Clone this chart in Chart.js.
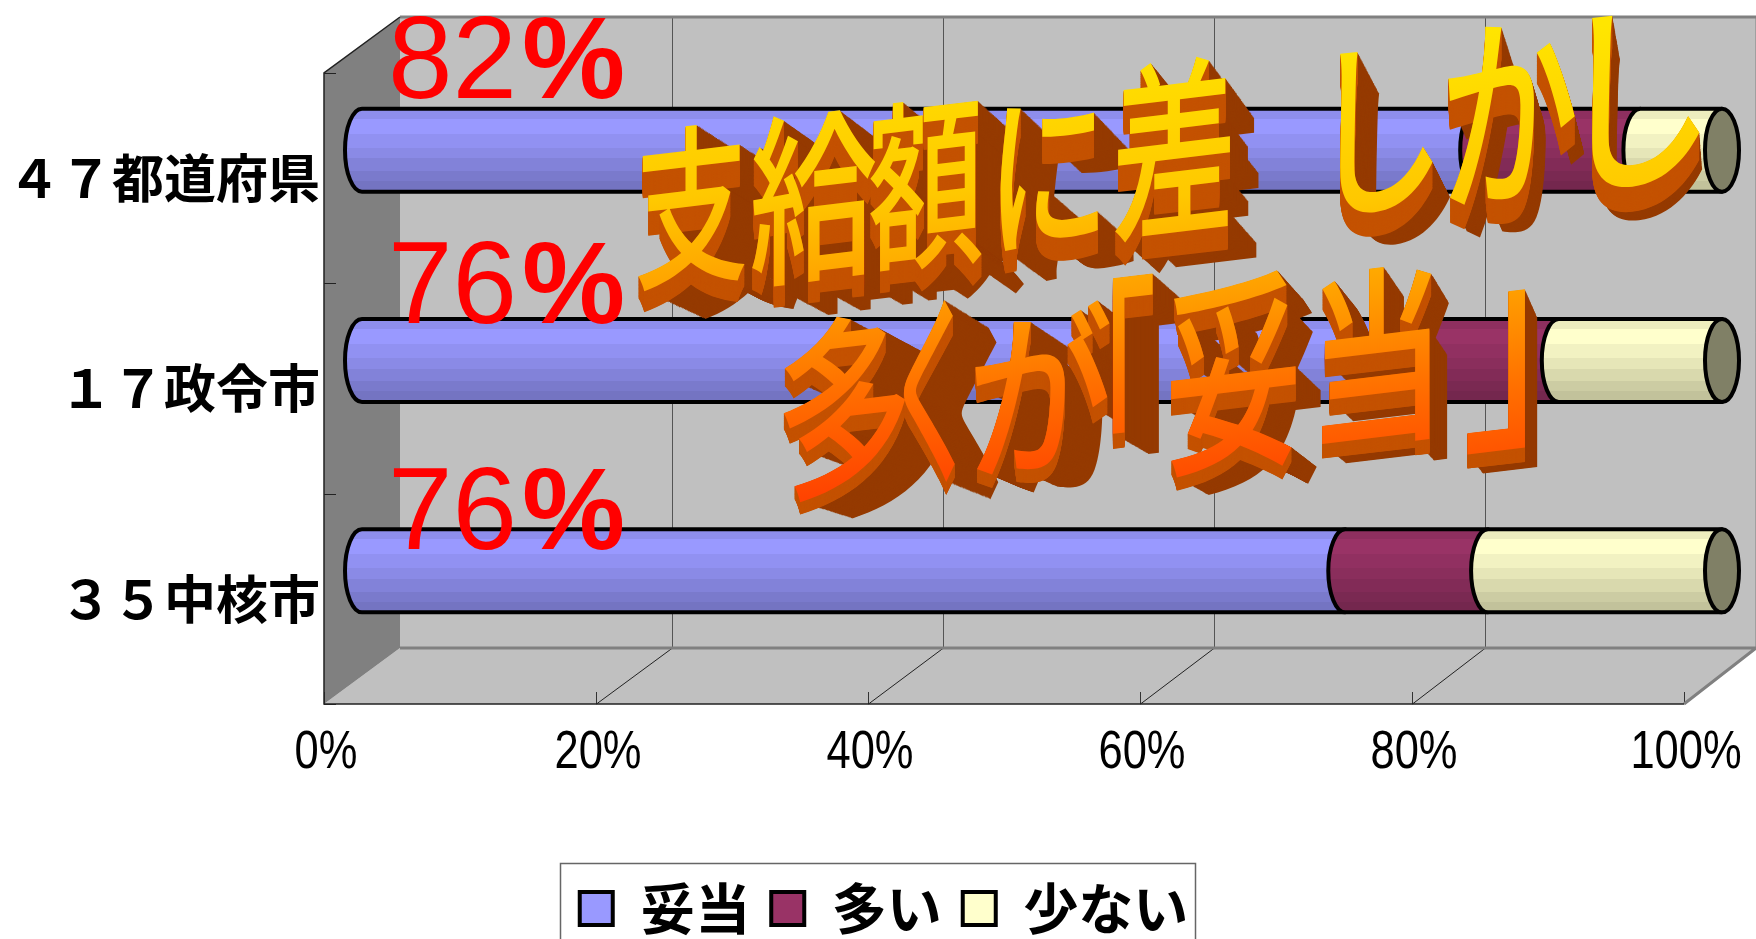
<!DOCTYPE html>
<html>
<head>
<meta charset="utf-8">
<title>支給額</title>
<style>
  html, body { margin: 0; padding: 0; background: #fff; overflow: hidden; }
  canvas { display: block; }
</style>
<script src="https://cdn.jsdelivr.net/npm/chart.js@4"></script>
</head>
<body>
<canvas id="chart" width="1756" height="939"></canvas>
<script>
const categories = ['４７都道府県', '１７政令市', '３５中核市'];
const seriesNames = ['妥当', '多い', '少ない'];
const fitting = [82, 76, 72.3];
const tooMuch = [12, 12, 10.5];
const tooLittle = [6, 12, 17.2];
const xTicks = [0, 20, 40, 60, 80, 100];
const redLabels = ['82', '76', '76'];

const FONT_JP = '"Noto Sans CJK JP", "Noto Sans", sans-serif';

// depth of the fake 3D box, in pixels
const DX = 76, DY = -56;
const CAP_RX = 17;

// stepped shading of the cylinders: [offset, brightness]
const BANDS = [[0, 0.93], [0.12, 1], [0.3, 0.95], [0.47, 0.9], [0.6, 0.85], [0.75, 0.8], [0.87, 0.76]];

function shade(hex, f) {
  const n = parseInt(hex.slice(1), 16);
  const r = Math.round(((n >> 16) & 255) * f);
  const g = Math.round(((n >> 8) & 255) * f);
  const b = Math.round((n & 255) * f);
  return `rgb(${r},${g},${b})`;
}

function bandGradient(ctx, top, bottom, hex) {
  const g = ctx.createLinearGradient(0, top, 0, bottom);
  BANDS.forEach((band, i) => {
    const next = i + 1 < BANDS.length ? BANDS[i + 1][0] : 1;
    g.addColorStop(band[0], shade(hex, band[1]));
    g.addColorStop(next, shade(hex, band[1]));
  });
  return g;
}

// walls, floor and grid are drawn behind everything
const boxPlugin = {
  id: 'box',
  beforeDraw(chart) {
    const { ctx, chartArea: a, scales } = chart;
    const backL = a.left + DX, backR = a.right + DX - 4, backT = a.top + DY, backB = a.bottom + DY;
    const backScale = (backR - backL) / (a.right - a.left);
    ctx.save();
    ctx.fillStyle = '#c0c0c0';
    ctx.fillRect(backL, backT, backR - backL, backB - backT);
    ctx.beginPath();
    ctx.moveTo(a.left, a.bottom);
    ctx.lineTo(backL, backB);
    ctx.lineTo(backR, backB);
    ctx.lineTo(a.right, a.bottom);
    ctx.closePath();
    ctx.fill();
    ctx.fillStyle = '#808080';
    ctx.beginPath();
    ctx.moveTo(a.left, a.top);
    ctx.lineTo(backL, backT);
    ctx.lineTo(backL, backB);
    ctx.lineTo(a.left, a.bottom);
    ctx.closePath();
    ctx.fill();

    // grid on back wall and floor
    ctx.lineWidth = 1;
    scales.x.ticks.forEach((t, i) => {
      const x = Math.round(scales.x.getPixelForTick(i)) + 0.5;
      const xBack = Math.round(backL + (x - a.left) * backScale) + 0.5;
      if (i > 0 && i < xTicks.length - 1) {
        ctx.strokeStyle = '#555';
        ctx.beginPath();
        ctx.moveTo(xBack, backT);
        ctx.lineTo(xBack, backB);
        ctx.stroke();
        ctx.strokeStyle = '#222';
        ctx.beginPath();
        ctx.moveTo(x, a.bottom);
        ctx.lineTo(xBack, backB);
        ctx.stroke();
      }
      ctx.strokeStyle = '#333';
      ctx.beginPath();
      ctx.moveTo(x, a.bottom);
      ctx.lineTo(x, a.bottom - 12);
      ctx.stroke();
    });

    // edges
    ctx.strokeStyle = '#808080';
    ctx.lineWidth = 3;
    ctx.beginPath();
    ctx.moveTo(backL, backT);
    ctx.lineTo(backR, backT);
    ctx.moveTo(backL, backB);
    ctx.lineTo(backR, backB);
    ctx.moveTo(a.right, a.bottom);
    ctx.lineTo(backR, backB);
    ctx.stroke();
    ctx.lineWidth = 1;
    ctx.beginPath();
    ctx.moveTo(backR, backT);
    ctx.lineTo(backR, backB);
    ctx.stroke();

    ctx.strokeStyle = '#222';
    ctx.lineWidth = 1.5;
    ctx.beginPath();
    ctx.moveTo(a.right, a.bottom);
    ctx.lineTo(a.left, a.bottom);
    ctx.lineTo(a.left, a.top);
    ctx.lineTo(backL, backT);
    ctx.stroke();

    // category tick marks on the left wall
    const band = (a.bottom - a.top) / categories.length;
    ctx.lineWidth = 1;
    for (let i = 0; i <= categories.length; i++) {
      const y = Math.round(a.top + i * band) + 0.5;
      ctx.beginPath();
      ctx.moveTo(a.left, y);
      ctx.lineTo(a.left + 12, y);
      ctx.stroke();
    }

    // value labels, squeezed like a narrow face
    ctx.fillStyle = '#000';
    ctx.font = '53px "Liberation Sans", sans-serif';
    ctx.textAlign = 'center';
    ctx.textBaseline = 'alphabetic';
    scales.x.ticks.forEach((t, i) => {
      ctx.save();
      ctx.translate(scales.x.getPixelForTick(i) + 2, 768);
      ctx.scale(0.82, 1);
      ctx.fillText(t.label, 0, 0);
      ctx.restore();
    });
    ctx.restore();
  }
};

// bars are laid out by the stacked scales, then shown as cylinders half way into the box
const cylinderPlugin = {
  id: 'cylinders',
  beforeDatasetsDraw(chart) {
    const ctx = chart.ctx;
    ctx.save();
    ctx.translate(DX / 2, DY / 2);
    chart.data.datasets.forEach((ds, di) => {
      const last = di === chart.data.datasets.length - 1;
      chart.getDatasetMeta(di).data.forEach(bar => {
        const top = bar.y - bar.height / 2;
        const bottom = bar.y + bar.height / 2;
        const ry = bar.height / 2;
        ctx.beginPath();
        ctx.moveTo(bar.x, top);
        ctx.lineTo(bar.base, top);
        ctx.ellipse(bar.base, bar.y, CAP_RX, ry, 0, -Math.PI / 2, Math.PI / 2, true);
        ctx.lineTo(bar.x, bottom);
        ctx.closePath();
        ctx.fillStyle = bandGradient(ctx, top, bottom, ds.backgroundColor);
        ctx.fill();
        ctx.strokeStyle = '#000';
        ctx.lineWidth = 4;
        ctx.lineJoin = 'round';
        ctx.stroke();
        if (last) {
          ctx.beginPath();
          ctx.ellipse(bar.x, bar.y, CAP_RX, ry, 0, 0, Math.PI * 2);
          ctx.fillStyle = '#808066';
          ctx.fill();
          ctx.stroke();
        }
      });
    });
    ctx.restore();
    return false;
  }
};

// red percentages, placed by hand like the text boxes they were
const redLabelBaselines = [98, 323, 549];
const redLabelPlugin = {
  id: 'redLabels',
  afterDraw(chart) {
    const ctx = chart.ctx;
    ctx.save();
    ctx.fillStyle = '#ff0000';
    ctx.textAlign = 'left';
    ctx.textBaseline = 'alphabetic';
    redLabels.forEach((text, i) => {
      ctx.font = '116px "Liberation Sans", sans-serif';
      ctx.fillText(text, 388, redLabelBaselines[i]);
      ctx.font = 'bold 116px "Liberation Sans", sans-serif';
      ctx.fillText('%', 522, redLabelBaselines[i]);
    });
    ctx.restore();
  }
};

// the extruded headline
const artText = '支給額に差しかし多くが「妥当」';
// left, right, top, bottom of each front face
const artBoxes = [
  [638, 745, 118, 293], [752, 875, 103, 290], [870, 982, 92, 277], [1000, 1098, 97, 253], [1115, 1230, 52, 245],
  [1340, 1433, 42, 217], [1448, 1575, 15, 207], [1592, 1700, 4, 192],
  [783, 905, 308, 505], [901, 955, 298, 487], [975, 1110, 298, 477], [1113, 1153, 273, 435],
  [1171, 1296, 267, 480], [1322, 1432, 260, 453], [1467, 1525, 288, 455]
];
const ART_SLOPE = 0.12;
const ART_VANISH = [1750, 800];
const ART_DEPTH = 0.055;
const ART_STEPS = 40;

function glyphMatrix(ctx, ch, box) {
  const m = ctx.measureText(ch);
  const left = -m.actualBoundingBoxLeft, right = m.actualBoundingBoxRight;
  const up = -m.actualBoundingBoxAscent, down = m.actualBoundingBoxDescent;
  const w = box[1] - box[0], h = box[3] - box[2];
  const sx = w / (right - left);
  const sy = (h - ART_SLOPE * w) / (down - up);
  const uc = (left + right) / 2, vc = (up + down) / 2;
  const e = box[0] - sx * left;
  const f = (box[2] + box[3]) / 2 + ART_SLOPE * sx * uc - sy * vc;
  return { a: sx, b: -ART_SLOPE * sx, d: sy, e, f, uc };
}

const artPlugin = {
  id: 'wordArt',
  afterDraw(chart) {
    const ctx = chart.ctx;
    const glyphs = Array.from(artText);
    const [vx, vy] = ART_VANISH;
    ctx.save();
    ctx.font = `500 200px ${FONT_JP}`;
    ctx.textBaseline = 'alphabetic';
    ctx.textAlign = 'left';
    const mats = glyphs.map((ch, i) => glyphMatrix(ctx, ch, artBoxes[i]));

    // side faces: right facing ones dark, downward ones lighter
    [[1, 1, '#953a00', 1], [0, 1, '#c45200', 0.75]].forEach(pass => {
      ctx.fillStyle = pass[2];
      glyphs.forEach((ch, i) => {
        const m = mats[i];
        for (let s = ART_STEPS; s > 0; s--) {
          const t = ART_DEPTH * pass[3] * s / ART_STEPS;
          const kx = pass[0] ? 1 - t : 1, ky = 1 - t;
          ctx.setTransform(1, 0, 0, 1, 0, 0);
          ctx.translate(vx, vy);
          ctx.scale(kx, ky);
          ctx.translate(-vx, -vy);
          ctx.transform(m.a, m.b, 0, m.d, m.e, m.f);
          ctx.fillText(ch, 0, 0);
        }
      });
    });

    // front faces with one gold to red gradient down the whole headline
    glyphs.forEach((ch, i) => {
      const m = mats[i];
      ctx.setTransform(m.a, m.b, 0, m.d, m.e, m.f);
      const toV = y => (y - m.f - m.b * m.uc) / m.d;
      const g = ctx.createLinearGradient(m.uc, toV(20), m.uc, toV(510));
      g.addColorStop(0, '#ffe600');
      g.addColorStop(0.36, '#ffc800');
      g.addColorStop(0.55, '#ffa000');
      g.addColorStop(0.75, '#ff7000');
      g.addColorStop(1, '#ff3c00');
      ctx.fillStyle = g;
      ctx.fillText(ch, 0, 0);
    });
    ctx.restore();

    // legend frame, its bottom edge runs off the picture
    ctx.save();
    ctx.strokeStyle = '#666';
    ctx.lineWidth = 1.5;
    ctx.strokeRect(560.5, 863.5, 635, 100);
    ctx.restore();
  }
};

const legendShift = {
  id: 'legendShift',
  afterLayout(chart) {
    chart.legend.top = 860;
    chart.legend.left += 42;
    chart.legend.right += 42;
  }
};

const colors = ['#9999FF', '#993366', '#FFFFCC'];
const values = [fitting, tooMuch, tooLittle];

new Chart(document.getElementById('chart'), {
  type: 'bar',
  data: {
    labels: categories,
    datasets: seriesNames.map((name, i) => ({
      label: name,
      data: values[i],
      backgroundColor: colors[i],
      borderColor: '#000',
      borderWidth: 4,
      barPercentage: 0.395,
      categoryPercentage: 1
    }))
  },
  options: {
    indexAxis: 'y',
    responsive: false,
    animation: false,
    layout: { padding: { top: 73, right: 72, left: 0, bottom: 0 } },
    plugins: {
      tooltip: { enabled: false },
      legend: {
        position: 'bottom',
        labels: {
          boxWidth: 33,
          boxHeight: 33,
          padding: 21,
          color: '#000',
          font: { family: FONT_JP, size: 55, weight: 'bold' }
        }
      }
    },
    scales: {
      x: {
        type: 'linear',
        stacked: true,
        min: 0,
        max: 100,
        afterBuildTicks(scale) {
          scale.ticks = xTicks.map(v => ({ value: v }));
        },
        afterFit(scale) {
          scale.height = scale.chart.height - 704 - scale.chart.legend.height;
        },
        grid: { display: false },
        border: { display: false },
        ticks: {
          display: false,
          callback: v => v + '%'
        }
      },
      y: {
        stacked: true,
        afterFit(scale) {
          scale.width = 324;
        },
        grid: { display: false },
        border: { display: false },
        ticks: {
          color: '#000',
          padding: -4,
          autoSkip: false,
          font: { family: FONT_JP, size: 52, weight: 'bold' }
        }
      }
    }
  },
  plugins: [boxPlugin, cylinderPlugin, redLabelPlugin, artPlugin, legendShift]
});
</script>
</body>
</html>
